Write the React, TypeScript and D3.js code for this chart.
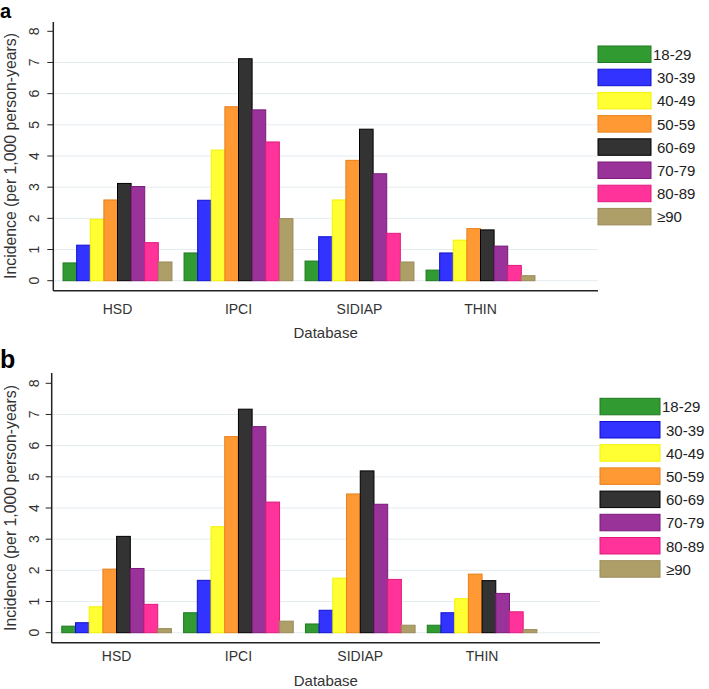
import * as d3 from 'd3';

const categories = ['HSD', 'IPCI', 'SIDIAP', 'THIN'];
const ageGroups = ['18-29', '30-39', '40-49', '50-59', '60-69', '70-79', '80-89', '≥90'];
const fills = ['#319a31', '#3333ff', '#ffff33', '#ff9933', '#333333', '#993399', '#ff3399', '#ae9e68'];
const strokes = ['#1f7a1f', '#1010cc', '#f2f200', '#e6801a', '#000000', '#7a1a7a', '#e01a80', '#9a8a58'];
const yTicks = [0, 1, 2, 3, 4, 5, 6, 7, 8];
const gridTicks = [0, 1, 2, 3, 4, 5, 6, 7];

// incidence per age group, in order HSD, IPCI, SIDIAP, THIN
const valuesA = [
  [0.57, 0.89, 0.63, 0.34],
  [1.14, 2.58, 1.41, 0.89],
  [1.97, 4.19, 2.59, 1.3],
  [2.59, 5.58, 3.86, 1.67],
  [3.12, 7.12, 4.86, 1.63],
  [3.02, 5.48, 3.43, 1.11],
  [1.22, 4.45, 1.52, 0.49],
  [0.6, 1.99, 0.6, 0.16],
];
const valuesB = [
  [0.21, 0.64, 0.28, 0.24],
  [0.32, 1.68, 0.72, 0.64],
  [0.83, 3.4, 1.75, 1.09],
  [2.04, 6.29, 4.45, 1.88],
  [3.09, 7.17, 5.19, 1.67],
  [2.06, 6.61, 4.12, 1.26],
  [0.91, 4.19, 1.71, 0.67],
  [0.13, 0.37, 0.24, 0.1],
];

const font = 'Liberation Sans, Arial, sans-serif';

const Panel = ({ letter, values, lay }) => {
  const x0 = d3.scaleBand().domain(categories).range(lay.xr).paddingInner(0.1).paddingOuter(0.05);
  const x1 = d3.scaleBand().domain(ageGroups).range([0, x0.bandwidth()]);
  const y = d3.scaleLinear().domain([0, 8]).range([lay.y0, lay.y8]);
  const legY = d3.scaleBand().domain(ageGroups).range([lay.legTop, lay.legTop + 23.2 * 8]);

  return (
    <g>
      <text x={0} y={lay.letterY} fontSize={lay.letterSize} fontWeight={700} fontFamily="Arial, Liberation Sans, sans-serif">{letter}</text>
      {gridTicks.map(t => (
        <line key={'g' + t} x1={lay.axisX} x2={lay.axisEnd} y1={y(t)} y2={y(t)} stroke="#e4ecf0" strokeWidth={1} />
      ))}
      {values.map((series, gi) => series.map((v, ci) => (
        <rect
          key={gi + '-' + ci}
          x={x0(categories[ci]) + x1(ageGroups[gi])}
          y={y(v)}
          width={x1.bandwidth()}
          height={y(0) - y(v)}
          fill={fills[gi]}
          stroke={strokes[gi]}
          strokeWidth={1}
        />
      )))}
      <line x1={lay.axisX} x2={lay.axisX} y1={lay.axisTop} y2={lay.axisY} stroke="#222" strokeWidth={1.5} />
      <line x1={lay.axisX} x2={lay.axisEnd} y1={lay.axisY} y2={lay.axisY} stroke="#222" strokeWidth={1.5} />
      {yTicks.map(t => (
        <g key={'t' + t}>
          <line x1={lay.axisX - 6} x2={lay.axisX} y1={y(t)} y2={y(t)} stroke="#222" strokeWidth={1} />
          <text
            transform={`translate(38.5,${y(t)}) rotate(-90)`}
            textAnchor="middle"
            fontSize={14}
            fill="#333"
            fontFamily={font}
          >{t}</text>
        </g>
      ))}
      <text
        transform={`translate(15.5,${(lay.y0 + lay.y8) / 2}) rotate(-90)`}
        textAnchor="middle"
        fontSize={15.8}
        fill="#333"
        fontFamily={font}
      >Incidence (per 1,000 person-years)</text>
      {categories.map(c => (
        <text key={c} x={x0(c) + x0.bandwidth() / 2} y={lay.catY} textAnchor="middle" fontSize={14} fill="#333" fontFamily={font}>{c}</text>
      ))}
      <text x={(lay.axisX + lay.axisEnd) / 2} y={lay.titleY} textAnchor="middle" fontSize={15} fill="#333" fontFamily={font}>Database</text>
      {ageGroups.map((a, i) => (
        <g key={a}>
          <rect x={lay.legX} y={legY(a)} width={lay.legW} height={16.5} fill={fills[i]} stroke={strokes[i]} strokeWidth={1} />
          <text x={lay.legX + lay.legW + (i === 0 ? 2 : 6)} y={legY(a) + 14} fontSize={15} fill="#222" fontFamily={font}>{a}</text>
        </g>
      ))}
    </g>
  );
};

const layoutA = {
  letterY: 18, letterSize: 20, xr: [57, 541], y0: 280.7, y8: 31.3, axisX: 53.3, axisEnd: 598, axisTop: 22, axisY: 290.7,
  catY: 313.5, titleY: 338, legX: 598, legW: 53, legTop: 46,
};
const layoutB = {
  letterY: 368, letterSize: 25, xr: [55.7, 543], y0: 632.7, y8: 383.3, axisX: 51.7, axisEnd: 600, axisTop: 373, axisY: 642.7,
  catY: 661, titleY: 686, legX: 600, legW: 60, legTop: 398.3,
};

export default function App() {
  return (
    <svg width={709} height={689} style={{ position: 'absolute', left: 0, top: 0, background: '#fff' }}>
      <Panel letter="a" values={valuesA} lay={layoutA} />
      <Panel letter="b" values={valuesB} lay={layoutB} />
    </svg>
  );
}
